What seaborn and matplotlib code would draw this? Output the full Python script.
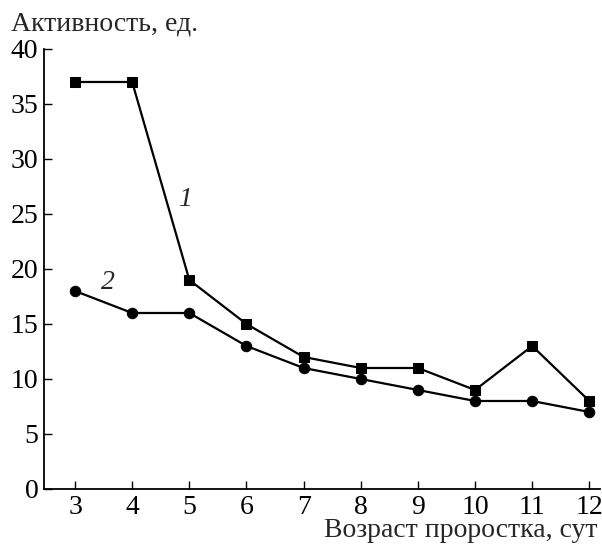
import matplotlib
matplotlib.use("Agg")
import matplotlib.pyplot as plt
import seaborn as sns
import pandas as pd

days = [3, 4, 5, 6, 7, 8, 9, 10, 11, 12]
series1 = [37, 37, 19, 15, 12, 11, 11, 9, 13, 8]
series2 = [18, 16, 16, 13, 11, 10, 9, 8, 8, 7]
yticks = [0, 5, 10, 15, 20, 25, 30, 35, 40]

df = pd.DataFrame({
    "day": days * 2,
    "value": series1 + series2,
    "series": ["1"] * len(days) + ["2"] * len(days),
})

sns.set_theme(style="ticks")
plt.rcParams['font.family'] = ['Liberation Serif', 'DejaVu Serif']

fig = plt.figure(figsize=(6.02, 5.46), dpi=100)
ax = fig.add_axes([0.0731, 0.1044, 0.9239, 0.8059])

sns.lineplot(data=df, x="day", y="value", hue="series", style="series",
             markers={"1": "s", "2": "o"}, dashes=False,
             palette={"1": "black", "2": "black"},
             markersize=7.5, linewidth=1.6, markeredgecolor="black",
             legend=False, ax=ax)

ax.set_xlim(2.457, 12.19)
ax.set_ylim(0, 40)
ax.set_xticks(days)
ax.set_yticks(yticks)
ax.tick_params(direction="in", length=6, width=1, labelsize=20, colors="black", pad=4)
for s in ["top", "right"]:
    ax.spines[s].set_visible(False)
for s in ["left", "bottom"]:
    ax.spines[s].set_linewidth(1.3)
    ax.spines[s].set_color("black")
ax.set_xlabel("")
ax.set_ylabel("")

fig.text(0.018, 0.945, "Активность, ед.", fontsize=20, ha="left", va="baseline")
fig.text(0.993, 0.0165, "Возраст проростка, сут", fontsize=20, ha="right", va="baseline")

ax.text(4.93, 26.3, "1", fontsize=20, style="italic", ha="center", va="center")
ax.text(3.58, 18.8, "2", fontsize=20, style="italic", ha="center", va="center")

fig.savefig("out.png", dpi=100)
